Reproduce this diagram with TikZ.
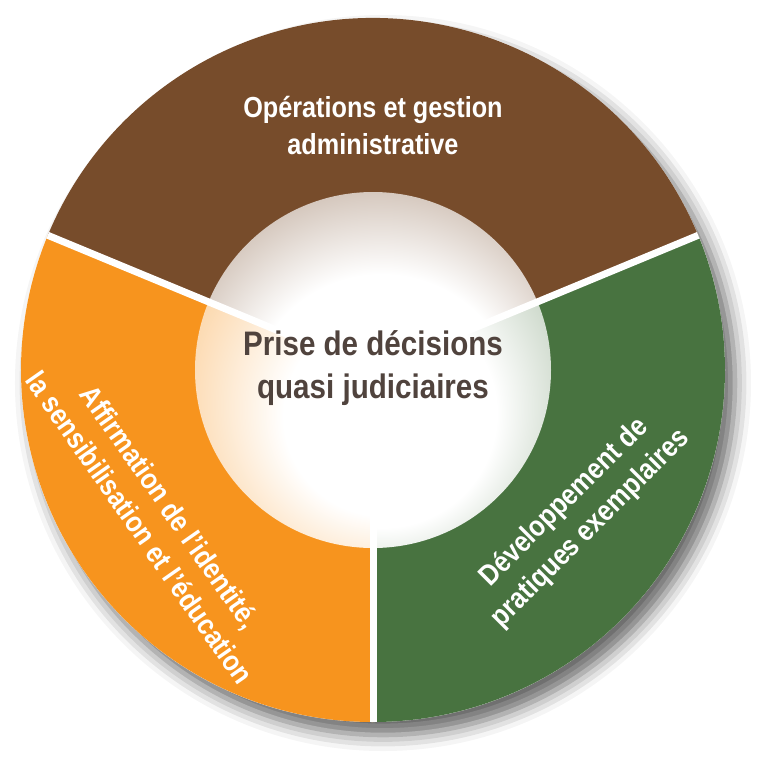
\documentclass[tikz,border=0pt]{standalone}
\usepackage{fontspec}
\setmainfont{Liberation Sans}[FakeStretch=0.87]
\usetikzlibrary{shadows.blur}

\definecolor{opsbrown}{RGB}{119,76,43}
\definecolor{affirmorange}{RGB}{247,148,30}
\definecolor{devgreen}{RGB}{72,115,64}
\definecolor{centretext}{RGB}{80,67,61}
\colorlet{brownrim}{opsbrown!96!white}
\colorlet{orangerim}{affirmorange!93!white}
\colorlet{greenrim}{devgreen!88!white}

\pgfdeclareradialshading{brownglow}{\pgfpoint{2bp}{-9bp}}{color(0bp)=(white); color(19bp)=(white); color(50bp)=(brownrim)}
\pgfdeclareradialshading{orangeglow}{\pgfpoint{2bp}{-9bp}}{color(0bp)=(white); color(14bp)=(white); color(50bp)=(orangerim)}
\pgfdeclareradialshading{greenglow}{\pgfpoint{2bp}{-9bp}}{color(0bp)=(white); color(16bp)=(white); color(50bp)=(greenrim)}

\begin{document}
\begin{tikzpicture}[x=1pt, y=1pt,
    ringlabel/.style={text=white, inner sep=0pt, align=center, font=\bfseries\fontsize{29}{37}\selectfont},
    hublabel/.style={text=centretext, inner sep=0pt, align=center, font=\bfseries\fontsize{34}{43}\selectfont},
    divider/.style={white, line width=7pt}]
    \useasboundingbox (-373,-399) rectangle (400,370);

    % disc and its shadow
    \fill[white, blur shadow={shadow xshift=10pt, shadow yshift=-13pt, shadow blur radius=16pt, shadow opacity=60}] (0,0) circle (352);

    % the three sectors
    \fill[opsbrown] (0,0) -- (22.5:352) arc[start angle=22.5, end angle=157.5, radius=352] -- cycle;
    \fill[affirmorange] (0,0) -- (157.5:352) arc[start angle=157.5, end angle=270, radius=352] -- cycle;
    \fill[devgreen] (0,0) -- (270:352) arc[start angle=270, end angle=382.5, radius=352] -- cycle;

    % glowing hub
    \foreach \a/\b/\glow in {22.5/157.5/brownglow, 157.5/270/orangeglow, -90/22.5/greenglow}{
        \begin{scope}
            \clip (0,0) -- (\a:400) arc[start angle=\a, end angle=\b, radius=400] -- cycle;
            \shade[shading=\glow] (0,0) circle (178);
        \end{scope}
    }

    \foreach \a in {22.5, 157.5, 270}
        \draw[divider] (0,0) -- (\a:352);

    \node[ringlabel] (ops) at (0,244) {Opérations et gestion\\administrative};
    \node[ringlabel, rotate=-55] (affirm) at (214:263) {Affirmation de l'identité,\\la sensibilisation et l'éducation};
    \node[ringlabel, rotate=45] (dev) at (-35.5:251) {Développement de\\pratiques exemplaires};
    \node[hublabel] (hub) at (0,2) {Prise de décisions\\quasi judiciaires};
\end{tikzpicture}
\end{document}
